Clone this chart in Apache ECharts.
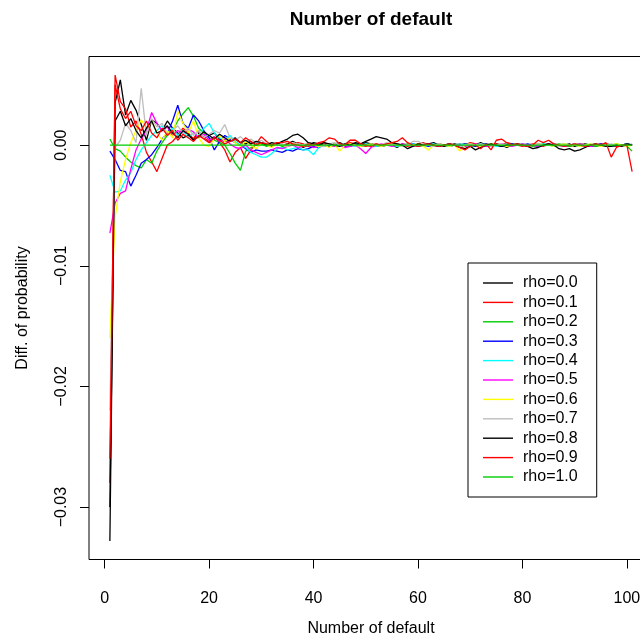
<!DOCTYPE html>
<html>
<head>
<meta charset="utf-8">
<script src="https://cdn.jsdelivr.net/npm/echarts@6/dist/echarts.min.js"></script>
<style>
html, body { margin: 0; padding: 0; background: #fff; }
#chart { width: 640px; height: 635px; }
</style>
</head>
<body>
<div id="chart"></div>
<script>
// number of defaults (x)
var nDefault = [
    1, 2, 3, 4, 5, 6, 7, 8, 9, 10, 11, 12, 13, 14, 15, 16, 17, 18, 19, 20,
    21, 22, 23, 24, 25, 26, 27, 28, 29, 30, 31, 32, 33, 34, 35, 36, 37, 38, 39, 40,
    41, 42, 43, 44, 45, 46, 47, 48, 49, 50, 51, 52, 53, 54, 55, 56, 57, 58, 59, 60,
    61, 62, 63, 64, 65, 66, 67, 68, 69, 70, 71, 72, 73, 74, 75, 76, 77, 78, 79, 80,
    81, 82, 83, 84, 85, 86, 87, 88, 89, 90, 91, 92, 93, 94, 95, 96, 97, 98, 99, 100, 101
];

// diff. of probability, in units of 1e-4
var rho00 = [
    -328, 35, 54, 25, 37, 29, 17, 4, 21, 18,
    12, 20, 14, 10, 6, 8, 5, 10, 6, 8,
    10, 5, 3, 4, 6, 2, 1, 3, 0, 2,
    1, -1, 2, 0, 1, 3, 1, -2, 0, 2,
    1, 0, -1, 1, 2, 0, -1, 1, 0, 2,
    1, -1, 0, 1, 0, -2, 1, 0, 1, -1,
    0, 1, 2, 0, -1, 0, 1, 0, -1, 1,
    0, 2, 0, -1, 1, 0, -2, 0, 1, 0,
    -1, 0, 1, 0, 1, -1, 0, 0, 1, -1,
    0, 1, 0, -1, 0, 1, 0, -1, 0, 1,
    0
];
var rho01 = [
    -280, 58, 36, 30, 15, 20, 9, -6, -14, -22,
    -11, 0, 3, 8, 14, 10, 5, 12, 6, 3,
    7, 2, -4, -14, -6, -2, -11, -4, 1, 7,
    3, 0, 2, -1, 1, 0, 2, 1, -1, 0,
    1, 2, 0, -1, 1, 0, 2, 1, 0, -1,
    0, 1, -1, 0, 2, 1, 0, -1, 0, 1,
    2, 0, -1, 1, 0, -1, 0, 1, 0, 2,
    1, 0, -1, 0, 1, 0, 2, 1, 0, -1,
    0, 1, 0, -1, 1, 0, 0, 1, -1, 0,
    1, 0, -1, 0, 1, 0, 0, -1, 0, 1,
    0
];
var rho02 = [
    5, -3, -5, -10, -14, -17, -19, -12, -15, -5,
    2, 8, 12, 20, 26, 31, 24, 14, 10, 6,
    4, 2, 0, -7, -15, -21, -5, -2, 0, 1,
    -1, 0, 1, -1, 0, 1, 0, -1, 0, 1,
    0, -1, 0, 1, 0, 0, -1, 1, 0, 0,
    1, 0, -1, 0, 1, 0, 0, 1, -1, 0,
    0, 1, 0, -1, 0, 1, 0, 0, 1, 0,
    -1, 0, 1, 0, 0, -1, 0, 1, 0, 1,
    0, -1, 0, 1, 0, 0, 1, 0, -1, 0,
    1, 0, 0, -1, 0, 1, 0, 1, 0, -1,
    -5
];
var rho03 = [
    -5, -12, -21, -22, -34, -25, -15, -12, -8, -2,
    5, 10, 20, 33, 18, 14, 25, 20, 12, 6,
    -4, 3, 8, 5, 2, 0, -3, -6, -4, -5,
    -5, -4, -5, -6, -4, -5, -3, -4, -3, -1,
    -2, 0, -1, 1, 0, -1, 0, 1, -1, 0,
    1, 0, -1, 0, 0, 1, -1, 0, 1, 0,
    0, -1, 0, 1, 0, -1, 0, 0, 1, 0,
    -1, 0, 1, 0, 0, -1, 0, 1, 0, 0,
    1, 0, -1, 0, 0, 1, 0, -1, 0, 1,
    0, 0, -1, 0, 1, 0, -1, 0, 0, 1,
    0
];
var rho04 = [
    -25, -39, -38, -29, -23, -12, -4, 2, 8, 12,
    16, 10, 14, 8, 12, 6, 10, 8, 14, 18,
    10, 6, 4, 8, 3, 0, -2, -6, -8, -10,
    -10, -7, -3, -2, -4, -3, -2, -4, -4, -8,
    -2, 0, 1, -1, 0, 1, 0, -1, 0, 1,
    0, -1, 0, 1, 0, -1, 0, 0, 1, 0,
    -1, 0, 1, 0, 0, -1, 0, 1, 0, -1,
    0, 1, 0, 0, -1, 0, 1, 0, 0, 1,
    -1, 0, 0, 1, 0, -1, 0, 1, 0, 0,
    -1, 0, 1, 0, 0, 1, -1, 0, 0, 1,
    0
];
var rho05 = [
    -73, -48, -40, -38, -20, -4, 5, 12, 27, 18,
    12, 15, 8, 12, 10, 13, 11, 6, 9, 4,
    7, 3, 5, 1, -2, -3, 0, -4, -6, -8,
    -6, -4, -2, -3, -1, 0, -2, -1, 0, -2,
    -1, 0, 1, -1, 0, -2, -1, 0, -3, -7,
    -2, 0, 1, 0, -1, 0, 1, 0, -1, 0,
    0, 1, 0, -1, 0, 1, 0, 0, -1, 0,
    1, 0, -1, 0, 0, 1, 0, -1, 0, 1,
    0, 0, -1, 0, 1, 0, 0, -1, 0, 0,
    1, 0, -1, 0, 0, 1, 0, 0, -1, 0,
    0
];
var rho06 = [
    -160, -60, -30, -12, 2, 12, 21, 14, 20, 10,
    4, 12, 6, 28, 18, 10, 20, 6, 0, -1,
    5, 8, 3, 6, 2, -1, 3, 0, -3, 2,
    0, -2, 1, 0, -1, 2, 0, -1, 1, 0,
    -1, 0, -2, 1, -5, 0, 1, 0, -1, 0,
    1, 0, -1, 0, 1, 0, -1, 0, 0, 1,
    -1, -4, 0, 1, 0, -1, 0, -5, 0, 1,
    0, -1, 0, 1, 0, 0, -1, 0, 1, 0,
    -1, 0, 1, 0, 0, -1, 0, 1, 0, 0,
    -1, 0, 1, 0, -1, 0, 0, 1, 0, -1,
    0
];
var rho07 = [
    -220, -2, 4, 18, 12, 2, 47, 8, 22, 15,
    18, 8, 12, 16, 10, 14, 8, 12, 6, 9,
    12, 10, 17, 6, 4, 7, 3, 5, 2, 4,
    1, 2, 0, 1, -1, 2, 1, 0, 2, 1,
    0, -1, 1, 2, 0, 1, 4, 4, 1, 0,
    -1, 1, 0, 2, 0, 1, -1, 0, 3, 3,
    1, 0, -1, 1, 0, 1, 0, -1, 0, 1,
    0, 1, 0, -1, 0, 1, 0, 0, 1, 0,
    -1, 0, 1, 0, 0, 1, -1, 0, 0, 1,
    0, -1, 0, 1, 0, 0, 1, 0, -1, 0,
    1
];
var rho08 = [
    -300, 20, 28, 16, 22, 12, 6, 14, 20, 10,
    12, 16, 10, 6, 12, 9, 4, 7, 11, 8,
    5, 9, 6, 3, 5, 2, 4, 1, 3, 2,
    0, 2, 1, 3, 5, 8, 9, 6, 2, 1,
    0, 2, 1, 0, -1, 1, 0, 2, 1, 3,
    5, 7, 6, 5, 2, 1, 0, -3, -1, 1,
    0, 1, 0, -1, 0, 1, 0, -2, -3, -1,
    -4, -2, 0, 1, 0, -1, 0, 0, 1, 0,
    -1, -3, -2, 0, 1, 0, -3, -4, -3, -5,
    -4, -2, 0, 1, 0, -1, -1, 0, -1, 1,
    0
];
var rho09 = [
    -260, 50, 30, 22, 28, 16, 12, 20, 10, 6,
    14, 8, 12, 4, 9, 6, 3, 8, 5, 2,
    6, 4, 1, 3, 5, 2, 6, 3, 0, 2,
    1, 0, 2, 2, 3, 1, 0, -1, 1, 0,
    2, 3, 6, 5, 1, 0, 4, 4, 1, 0,
    -1, 1, 0, 1, 2, 3, 6, 2, 0, -1,
    0, 1, 0, -1, 0, 1, 0, -2, -4, -1,
    0, -3, 1, -4, 4, 5, 2, 0, 1, 0,
    -1, 0, 4, 2, 4, 1, 0, -1, 0, 1,
    0, -1, 0, 1, 0, 2, -10, -2, 0, 0,
    -22
];
var rho10 = [
    0, 0, 0, 0, 0, 0, 0, 0, 0, 0,
    0, 0, 0, 0, 0, 0, 0, 0, 0, 0,
    0, 0, 0, 0, 0, 0, 0, 0, 0, 0,
    0, 0, 0, 0, 0, 0, 0, 0, 0, 0,
    0, 0, 0, 0, 0, 0, 0, 0, 0, 0,
    0, 0, 0, 0, 0, 0, 0, 0, 0, 0,
    0, 0, 0, 0, 0, 0, 0, 0, 0, 0,
    0, 0, 0, 0, 0, 0, 0, 0, 0, 0,
    0, 0, 0, 0, 0, 0, 0, 0, 0, 0,
    0, 0, 0, 0, 0, 0, 0, 0, 0, 0,
    0
];

var seriesNames = ['rho=0.0', 'rho=0.1', 'rho=0.2', 'rho=0.3', 'rho=0.4', 'rho=0.5',
    'rho=0.6', 'rho=0.7', 'rho=0.8', 'rho=0.9', 'rho=1.0'];
var seriesValues = [rho00, rho01, rho02, rho03, rho04, rho05, rho06, rho07, rho08, rho09, rho10];
var seriesColors = ['#000000', '#FF0000', '#00CD00', '#0000FF', '#00FFFF', '#FF00FF',
    '#FFFF00', '#BEBEBE', '#000000', '#FF0000', '#00CD00'];

var xTicks = [0, 20, 40, 60, 80, 100];
var yTicks = [-300, -200, -100, 0];
var yTickLabels = ['\u22120.03', '\u22120.02', '\u22120.01', '0.00'];

var font = 'Liberation Sans, Arial, Helvetica, sans-serif';

var series = [];
for (var s = 0; s < seriesValues.length; s++) {
    var pts = [];
    for (var i = 0; i < nDefault.length; i++) {
        pts.push([nDefault[i], seriesValues[s][i]]);
    }
    series.push({
        name: seriesNames[s],
        type: 'line',
        data: pts,
        symbol: 'none',
        color: seriesColors[s],
        lineStyle: { width: 1.3, color: seriesColors[s] },
        animation: false
    });
}

var chart = echarts.init(document.getElementById('chart'));
chart.setOption({
    animation: false,
    backgroundColor: '#fff',
    grid: {
        left: 89, right: -13, top: 56.5, bottom: 75.5,
        outerBoundsMode: 'none',
        show: true, borderColor: '#000', borderWidth: 1, backgroundColor: 'transparent'
    },
    xAxis: {
        type: 'value',
        min: -3, max: 105,
        name: 'Number of default',
        nameLocation: 'middle',
        nameGap: 61,
        nameTextStyle: { fontSize: 16, color: '#000', fontFamily: font },
        axisLine: { show: false, onZero: false },
        splitLine: { show: false },
        axisTick: { show: true, inside: false, length: 9, customValues: xTicks, lineStyle: { color: '#000' } },
        axisLabel: { customValues: xTicks, margin: 31, fontSize: 16, color: '#000', fontFamily: font }
    },
    yAxis: {
        type: 'value',
        min: -343.4, max: 73.4,
        name: 'Diff. of probability',
        nameLocation: 'middle',
        nameGap: 58,
        nameRotate: 90,
        nameTextStyle: { fontSize: 16, color: '#000', fontFamily: font },
        axisLine: { show: false, onZero: false },
        splitLine: { show: false },
        axisTick: { show: true, inside: false, length: 9, customValues: yTicks, lineStyle: { color: '#000' } },
        axisLabel: {
            customValues: yTicks, rotate: 90, margin: 19, fontSize: 16, color: '#000', fontFamily: font,
            formatter: function (v) { return yTickLabels[yTicks.indexOf(v)]; }
        }
    },
    legend: {
        orient: 'vertical',
        left: 468, top: 263,
        data: seriesNames,
        icon: 'rect',
        itemWidth: 30, itemHeight: 1.4, itemGap: 3.4,
        padding: [12, 19, 12, 15],
        borderColor: '#000', borderWidth: 1,
        textStyle: { fontSize: 16, lineHeight: 16, color: '#000', fontFamily: font, padding: [0, 0, 0, 5] }
    },
    graphic: [{
        type: 'text',
        x: 371, y: 20,
        style: {
            text: 'Number of default',
            fill: '#000',
            font: 'bold 19px ' + font,
            textAlign: 'center',
            textVerticalAlign: 'middle'
        }
    }],
    series: series
});
</script>
</body>
</html>
